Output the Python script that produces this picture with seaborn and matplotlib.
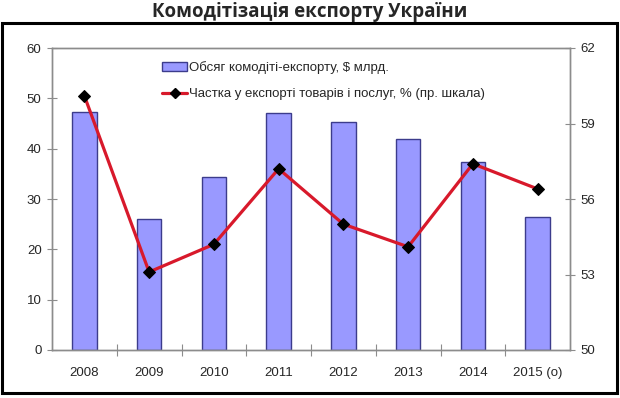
import matplotlib
matplotlib.use("Agg")
import matplotlib.pyplot as plt
import seaborn as sns
from matplotlib.patches import Rectangle
from matplotlib.lines import Line2D
from matplotlib.ticker import FixedLocator

# Data
years = ["2008", "2009", "2010", "2011", "2012", "2013", "2014", "2015 (о)"]
volume = [47.2, 26.1, 34.3, 47.0, 45.2, 42.0, 37.4, 26.5]   # $ bn, left scale
share = [60.1, 53.1, 54.2, 57.2, 55.0, 54.1, 57.4, 56.4]    # %, right scale

bar_label = "Обсяг комодіті-експорту, $ млрд."
line_label = "Частка у експорті товарів і послуг, % (пр. шкала)"
title = "Комодітізація експорту України"

sns.set_style("white")
plt.rcParams['font.family'] = ['Liberation Sans', 'DejaVu Sans']

fig = plt.figure(figsize=(6.2, 3.98), dpi=100)
ax = fig.add_axes([52 / 620, 48 / 398, 518 / 620, 302 / 398])

bar_color = "#9999FF"
edge_color = "#3C3C8C"
line_color = "#D8192B"
axis_gray = "#8C8C8C"

sns.barplot(x=years, y=volume, ax=ax, color=bar_color, width=0.38,
            edgecolor=edge_color, linewidth=1.0, saturation=1)

ax2 = ax.twinx()
sns.lineplot(x=list(range(len(years))), y=share, ax=ax2, color=line_color, lw=2.3,
             marker="D", markersize=6, markerfacecolor="black",
             markeredgecolor="black", sort=False)

ax.set_xlim(-0.5, len(years) - 0.5)
ax.set_ylim(0, 60)
ax.set_yticks(range(0, 61, 10))
ax2.set_ylim(50, 62)
ax2.set_yticks([50, 53, 56, 59, 62])
ax.set_xlabel("")
ax.set_ylabel("")
ax2.set_ylabel("")

# x ticks between categories, labels at centers
ax.xaxis.set_major_locator(FixedLocator([i + 0.5 for i in range(len(years) - 1)]))
ax.xaxis.set_minor_locator(FixedLocator(list(range(len(years)))))
ax.set_xticklabels([], minor=False)
ax.set_xticklabels(years, minor=True)
ax.tick_params(axis="x", which="major", direction="inout", length=8, color=axis_gray, bottom=True)
ax.tick_params(axis="x", which="minor", length=0, pad=12, labelsize=9.5)

ax.tick_params(axis="y", direction="inout", length=7, width=0.8, color=axis_gray,
               labelsize=9.5, pad=4, left=True)
ax2.tick_params(axis="y", direction="inout", length=7, width=0.8, color=axis_gray,
                labelsize=9.5, pad=4, right=True)

for a in (ax, ax2):
    for side in a.spines.values():
        side.set_color(axis_gray)
        side.set_linewidth(1.0)

handles = [Rectangle((0, 0), 1, 1, facecolor=bar_color, edgecolor=edge_color, lw=1.0),
           Line2D([], [], color=line_color, lw=2.3, marker="D", markersize=5,
                  markerfacecolor="black", markeredgecolor="black")]
ax2.legend(handles, [bar_label, line_label], loc="upper left",
           bbox_to_anchor=(0.19, 0.995), frameon=False, fontsize=9.5,
           handlelength=1.9, handleheight=0.6, handletextpad=0.1, labelspacing=1.05)

fig.text(0.5, 1 - 12 / 398, title, ha="center", va="center",
         fontsize=13.5, fontweight="bold", family=["Open Sans", "DejaVu Sans"])

fig.add_artist(Rectangle((2 / 620, 5 / 398), 615 / 620, 370 / 398,
                         transform=fig.transFigure, fill=False,
                         edgecolor="black", lw=2.2))

fig.savefig("out.png", dpi=100)
